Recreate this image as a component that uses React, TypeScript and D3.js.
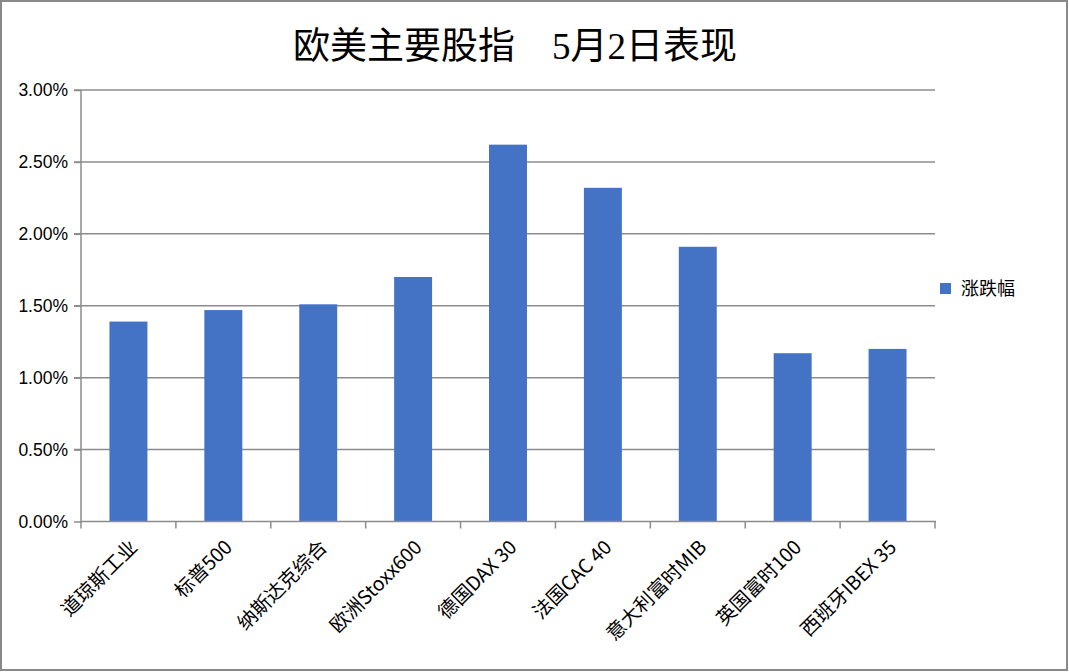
import React, { useEffect, useRef } from 'react';
import * as d3 from 'd3';

const categories = ['道琼斯工业', '标普500', '纳斯达克综合', '欧洲Stoxx600', '德国DAX 30', '法国CAC 40', '意大利富时MIB', '英国富时100', '西班牙IBEX 35'];
const changes = [1.39, 1.47, 1.51, 1.70, 2.62, 2.32, 1.91, 1.17, 1.20];
const yTicks = [0, 0.5, 1.0, 1.5, 2.0, 2.5, 3.0];
const seriesName = '涨跌幅';
const title = '欧美主要股指　5月2日表现';

function App() {
  const ref = useRef<SVGSVGElement>(null);

  const dims = { width: 1069, height: 672, left: 81, right: 935, top: 90, bottom: 521.5 };

  useEffect(function () {
    if (!ref.current) return;
    const svg = d3.select(ref.current);
    svg.selectAll('*').remove();

    const x = d3.scaleBand<string>().domain(categories).range([dims.left, dims.right]).paddingInner(0.6).paddingOuter(0.3);
    const y = d3.scaleLinear().domain([0, 3]).range([dims.bottom, dims.top]);

    // outer frame
    svg.append('rect')
      .attr('x', 1).attr('y', 1)
      .attr('width', dims.width - 3).attr('height', dims.height - 3)
      .attr('fill', 'white').attr('stroke', '#898989').attr('stroke-width', 2);

    svg.append('text')
      .attr('x', 515).attr('y', 59)
      .attr('text-anchor', 'middle')
      .attr('font-family', '"Liberation Serif", "Noto Sans CJK SC", serif')
      .attr('font-size', 37)
      .attr('fill', '#000')
      .text(title);

    // gridlines
    svg.append('g').selectAll('line')
      .data(yTicks.filter(d => d > 0))
      .join('line')
      .attr('x1', dims.left - 7).attr('x2', dims.right)
      .attr('y1', d => y(d)).attr('y2', d => y(d))
      .attr('stroke', '#8c8c8c').attr('stroke-width', 1.5);

    // y axis
    const yAxis = svg.append('g')
      .attr('transform', `translate(${dims.left},0)`)
      .call(d3.axisLeft(y).tickValues(yTicks).tickSize(7).tickPadding(6).tickFormat(d => (d as number).toFixed(2) + '%'));
    yAxis.select('.domain').attr('stroke', '#8c8c8c').attr('stroke-width', 1.5).attr('d', `M0,${dims.top}V${dims.bottom}`);
    yAxis.selectAll('.tick line').attr('stroke', '#8c8c8c').attr('stroke-width', 1.5);
    yAxis.selectAll('.tick text')
      .attr('font-family', '"Liberation Sans", "Noto Sans", sans-serif')
      .attr('font-size', 17.5).attr('fill', '#000');

    // bars
    svg.append('g').selectAll('rect')
      .data(categories)
      .join('rect')
      .attr('x', d => x(d)!)
      .attr('width', x.bandwidth())
      .attr('y', (d, i) => y(changes[i]))
      .attr('height', (d, i) => y(0) - y(changes[i]))
      .attr('fill', '#4472c4');

    // x axis
    const step = (dims.right - dims.left) / categories.length;
    const xg = svg.append('g');
    xg.append('line')
      .attr('x1', dims.left).attr('x2', dims.right + 1)
      .attr('y1', dims.bottom).attr('y2', dims.bottom)
      .attr('stroke', '#8c8c8c').attr('stroke-width', 1.5);
    xg.selectAll('line.tk')
      .data(d3.range(categories.length + 1))
      .join('line')
      .attr('class', 'tk')
      .attr('x1', i => dims.left + i * step).attr('x2', i => dims.left + i * step)
      .attr('y1', dims.bottom).attr('y2', dims.bottom + 7)
      .attr('stroke', '#8c8c8c').attr('stroke-width', 1.5);
    xg.selectAll('text')
      .data(categories)
      .join('text')
      .attr('transform', d => `translate(${x(d)! + x.bandwidth() / 2 + 10},${dims.bottom + 27}) rotate(-45)`)
      .attr('text-anchor', 'end')
      .attr('font-family', '"Noto Sans CJK SC", sans-serif')
      .attr('font-size', 19.5)
      .attr('fill', '#000')
      .text(d => d);

    // legend
    const lg = svg.append('g').attr('transform', 'translate(940,283)');
    lg.append('rect').attr('width', 11).attr('height', 11).attr('fill', '#4472c4');
    lg.append('text')
      .attr('x', 21).attr('y', 12)
      .attr('font-family', '"Noto Sans CJK SC", sans-serif')
      .attr('font-size', 18).attr('fill', '#000')
      .text(seriesName);
  });

  return (
    <div style={{ position: 'fixed', left: 0, top: 0 }}>
      <svg ref={ref} width={dims.width} height={dims.height} style={{ display: 'block' }} />
    </div>
  );
}

export default App;
